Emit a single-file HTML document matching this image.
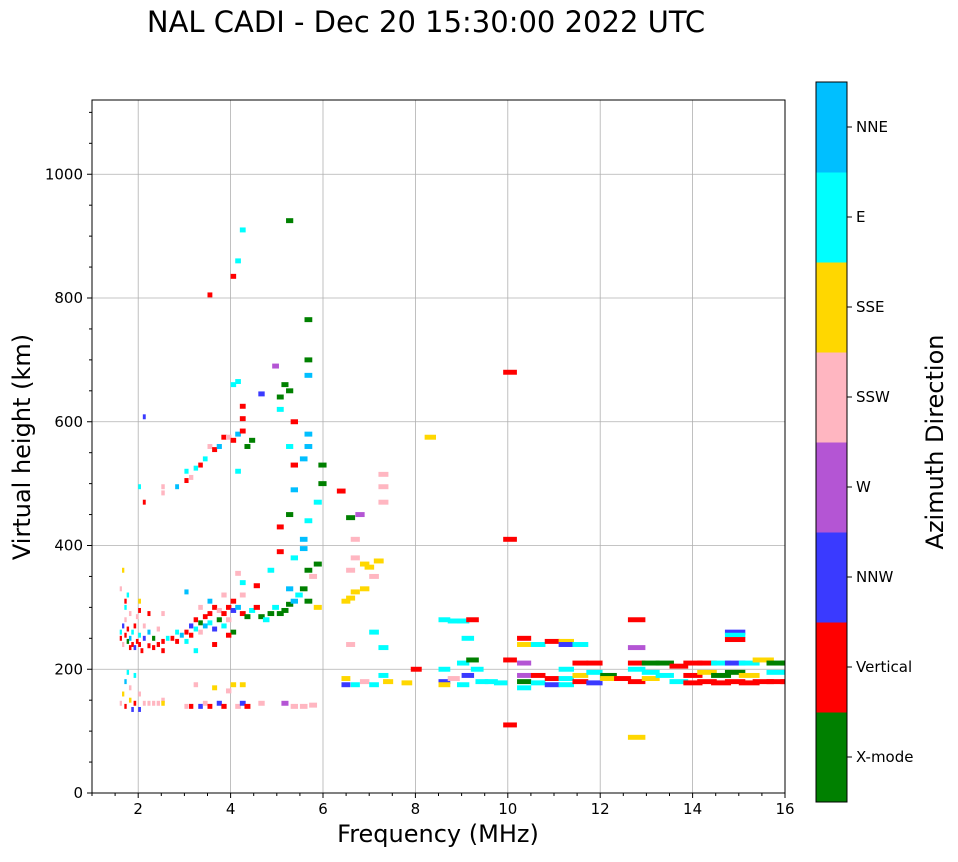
<!DOCTYPE html>
<html><head><meta charset="utf-8"><style>
html,body{margin:0;padding:0;background:#fff;}
svg text{font-family:"DejaVu Sans","Liberation Sans",sans-serif;}
</style></head><body>
<svg id="chart" width="958" height="857" xmlns="http://www.w3.org/2000/svg">
<defs><clipPath id="plotclip"><rect x="92" y="100" width="693" height="693"/></clipPath></defs>
<text x="426" y="32" font-size="29" text-anchor="middle">NAL CADI - Dec 20 15:30:00 2022 UTC</text>
<g id="grid"></g>
<g id="marks" clip-path="url(#plotclip)"></g>
<rect x="92" y="100" width="693" height="693" fill="none" stroke="#000" stroke-width="1"/>
<g id="axes"></g>
<text x="438" y="842" font-size="24" text-anchor="middle">Frequency (MHz)</text>
<text transform="translate(30,447) rotate(-90)" font-size="24" text-anchor="middle">Virtual height (km)</text>
<g id="cbar"></g>
<text transform="translate(943,442) rotate(-90)" font-size="24" text-anchor="middle">Azimuth Direction</text>
</svg>
<script>
const dirLabels=["X-mode","Vertical","NNW","W","SSW","SSE","E","NNE"];
const dirColors=["#008000","#ff0000","#3a3aff","#b455d4","#ffb6c1","#ffd700","#00ffff","#00bfff"];
const xTicks=[2,4,6,8,10,12,14,16];
const yTicks=[0,200,400,600,800,1000];
const points="1.6,250,1;1.6,260,6;1.65,240,4;1.65,270,2;1.7,255,1;1.7,280,4;1.7,300,6;1.75,245,0;1.75,265,1;1.8,235,1;1.8,250,7;1.8,290,4;1.85,240,1;1.85,260,6;1.9,235,2;1.9,270,1;1.95,245,1;1.95,285,4;2.0,240,1;2.0,255,6;2.0,295,1;2.05,230,1;2.1,250,2;2.1,270,4;2.2,238,1;2.2,260,7;2.3,235,1;2.3,250,0;2.4,240,1;2.4,265,4;2.5,245,1;2.5,230,1;2.6,250,6;2.7,250,1;2.8,245,1;2.8,260,6;2.9,255,7;3.0,260,1;3.0,245,6;3.1,270,2;3.1,255,1;3.2,265,6;3.2,280,1;3.3,260,4;3.3,275,0;3.4,270,7;3.4,285,1;3.5,275,6;3.5,290,1;3.6,265,2;3.6,300,1;3.7,280,0;3.7,295,4;3.8,290,1;3.8,270,6;3.9,300,1;3.9,280,4;4.0,295,2;4.0,310,1;4.0,260,0;4.1,300,7;4.2,290,1;4.2,320,4;4.3,285,0;4.4,295,6;4.5,300,1;4.6,285,0;4.7,280,6;4.8,290,0;4.9,300,6;5.0,290,0;5.1,295,0;5.2,305,0;5.2,330,7;5.3,310,7;5.4,320,6;5.5,330,0;5.6,310,0;5.6,360,0;5.7,350,4;5.8,370,0;5.8,300,5;5.5,395,7;5.3,380,6;5.0,390,1;4.8,360,6;4.5,335,1;4.2,340,6;1.6,330,4;1.65,360,5;1.7,310,1;1.75,320,6;2.0,310,5;2.2,290,1;2.5,290,4;3.0,325,7;3.3,300,4;3.5,310,7;3.8,320,4;4.1,355,4;3.2,230,6;3.6,240,1;3.9,255,1;1.6,145,4;1.65,160,5;1.7,180,7;1.7,140,1;1.75,195,6;1.8,170,4;1.8,150,5;1.85,135,2;1.9,190,6;1.9,145,1;2.0,160,4;2.0,135,2;2.1,145,4;2.2,145,4;2.3,145,4;2.4,145,4;2.5,150,4;2.5,145,5;3.0,140,4;3.1,140,1;3.2,175,4;3.3,140,2;3.4,145,4;3.5,140,1;3.6,170,5;3.7,145,2;3.8,140,1;3.9,165,4;4.0,175,5;4.1,140,4;4.2,145,2;4.3,140,1;4.2,175,5;4.6,145,4;5.1,145,3;5.3,140,4;5.5,140,4;5.7,142,4;2.0,495,6;2.1,470,1;2.5,485,4;2.5,495,4;2.8,495,7;3.0,520,6;3.0,505,1;3.1,510,4;3.2,525,6;3.3,530,1;3.4,540,6;3.5,560,4;3.6,555,1;3.7,560,7;3.8,575,1;3.9,575,4;4.0,570,1;4.1,580,7;4.1,520,6;4.2,585,1;4.3,560,0;4.4,570,0;4.2,605,1;4.2,625,1;4.0,660,6;4.1,665,6;4.0,835,1;4.1,860,6;4.2,910,6;3.5,805,1;2.1,608,2;4.6,645,2;4.9,690,3;5.0,640,0;5.0,620,6;5.1,660,0;5.2,650,0;5.3,600,1;5.6,700,0;5.6,675,7;5.6,765,0;5.6,580,7;5.2,925,0;5.9,530,0;5.9,500,0;5.6,560,7;5.5,540,7;5.3,530,1;5.3,490,7;5.0,430,1;5.2,450,0;5.6,440,6;5.8,470,6;5.5,410,7;5.2,560,6;6.3,488,1;6.5,445,0;6.6,410,4;6.7,450,3;6.5,360,4;6.6,380,4;6.8,370,5;6.9,365,5;7.1,375,5;7.0,350,4;6.8,330,5;6.6,325,5;6.5,315,5;6.4,310,5;7.2,515,4;7.2,495,4;7.2,470,4;7.0,260,6;7.2,235,6;6.5,240,4;6.4,175,2;6.6,175,6;6.8,180,4;7.0,175,6;7.2,190,6;7.3,180,5;7.7,178,5;7.9,200,1;8.2,575,5;6.4,185,5;8.5,280,6;8.7,278,6;8.9,278,6;9.1,280,1;9.0,250,6;8.5,200,6;8.5,180,2;8.5,175,5;8.7,185,4;8.9,210,6;8.9,175,6;9.0,190,2;9.1,215,0;9.2,200,6;9.3,180,6;9.5,180,6;9.7,178,6;9.9,680,1;9.9,410,1;9.9,215,1;9.9,110,1;10.2,250,1;10.2,240,5;10.2,210,3;10.2,190,3;10.2,180,0;10.2,170,6;10.5,240,6;10.5,190,1;10.5,178,6;10.8,245,1;10.8,185,1;10.8,175,2;11.1,245,5;11.1,240,2;11.1,200,6;11.1,185,6;11.1,175,6;11.4,240,6;11.4,210,1;11.4,190,5;11.4,180,1;11.7,210,1;11.7,195,6;11.7,178,2;12.0,190,0;12.0,185,5;12.3,185,1;12.6,280,1;12.6,235,3;12.6,210,1;12.6,200,6;12.6,180,1;12.6,90,5;12.9,210,0;12.9,195,6;12.9,185,5;13.2,210,0;13.2,190,6;13.5,205,1;13.5,180,6;13.8,210,1;13.8,190,1;13.8,178,1;14.1,210,1;14.1,195,5;14.1,180,1;14.4,210,6;14.4,190,0;14.4,178,1;14.7,260,2;14.7,255,6;14.7,210,2;14.7,195,0;14.7,180,1;14.7,248,1;15.0,210,6;15.0,190,5;15.0,178,1;15.3,215,5;15.3,180,1;15.6,210,0;15.6,195,6;15.6,180,1;15.9,210,0;15.9,180,1";
const freqs=[],heights=[],dirs=[];
points.split(";").forEach(s=>{const p=s.split(",");freqs.push(+p[0]);heights.push(+p[1]);dirs.push(+p[2]);});

const NS="http://www.w3.org/2000/svg";
const X0=92,X1=785,Y0=793,Y1=100,FMIN=1,FMAX=16,HMIN=0,HMAX=1120;
const xs=f=>X0+(f-FMIN)/(FMAX-FMIN)*(X1-X0);
const ys=h=>Y0-(h-HMIN)/(HMAX-HMIN)*(Y0-Y1);
function mk(tag,attrs,parent){const e=document.createElementNS(NS,tag);for(const k in attrs)e.setAttribute(k,attrs[k]);parent.appendChild(e);return e;}
const grid=document.getElementById("grid"),axes=document.getElementById("axes"),marks=document.getElementById("marks"),cbar=document.getElementById("cbar");
xTicks.forEach(t=>{const x=xs(t);
 if(t<FMAX){const g=mk("line",{x1:x,x2:x,y1:Y1,y2:Y0,stroke:"#b0b0b0","stroke-width":0.8},grid);
 
 }
 mk("line",{x1:x,x2:x,y1:Y0,y2:Y0+5,stroke:"#000"},axes);
 const tx=mk("text",{x:x,y:Y0+21,"font-size":15,"text-anchor":"middle"},axes);tx.textContent=t;
 
 });
for(let f=1;f<=16;f+=0.5){if(f%2!==0)mk("line",{x1:xs(f),x2:xs(f),y1:Y0,y2:Y0+3,stroke:"#000"},axes);}
yTicks.forEach(t=>{const y=ys(t);
 if(t>0){const g=mk("line",{x1:X0,x2:X1,y1:y,y2:y,stroke:"#b0b0b0","stroke-width":0.8},grid);
 
 }
 mk("line",{x1:X0-5,x2:X0,y1:y,y2:y,stroke:"#000"},axes);
 const tx=mk("text",{x:X0-9,y:y+5,"font-size":15,"text-anchor":"end"},axes);tx.textContent=t;
 
 });
for(let h=0;h<=1100;h+=50){if(h%200!==0)mk("line",{x1:X0-3,x2:X0,y1:ys(h),y2:ys(h),stroke:"#000"},axes);}
for(let i=0;i<freqs.length;i++){
 const w=Math.max(2,xs(freqs[i]*1.03)-xs(freqs[i]));const hh=ys(0)-ys(8);
 const r=mk("rect",{x:xs(freqs[i]),y:ys(heights[i])-hh/2,width:w,height:hh,fill:dirColors[dirs[i]]},marks);
 
 }
const CX=816,CW=31,CT=82,CB=802,seg=(CB-CT)/dirLabels.length;
dirLabels.forEach((l,i)=>{const y=CB-(i+1)*seg;
 const r=mk("rect",{x:CX,y:y,width:CW,height:seg+0.5,fill:dirColors[i]},cbar);
 
 
 mk("line",{x1:CX+CW,x2:CX+CW+5,y1:y+seg/2,y2:y+seg/2,stroke:"#000"},cbar);
 const t=mk("text",{x:CX+CW+9,y:y+seg/2+5,"font-size":15},cbar);t.textContent=l;
 
 });
mk("rect",{x:CX,y:CT,width:CW,height:CB-CT,fill:"none",stroke:"#000"},cbar);
</script>
</body></html>
